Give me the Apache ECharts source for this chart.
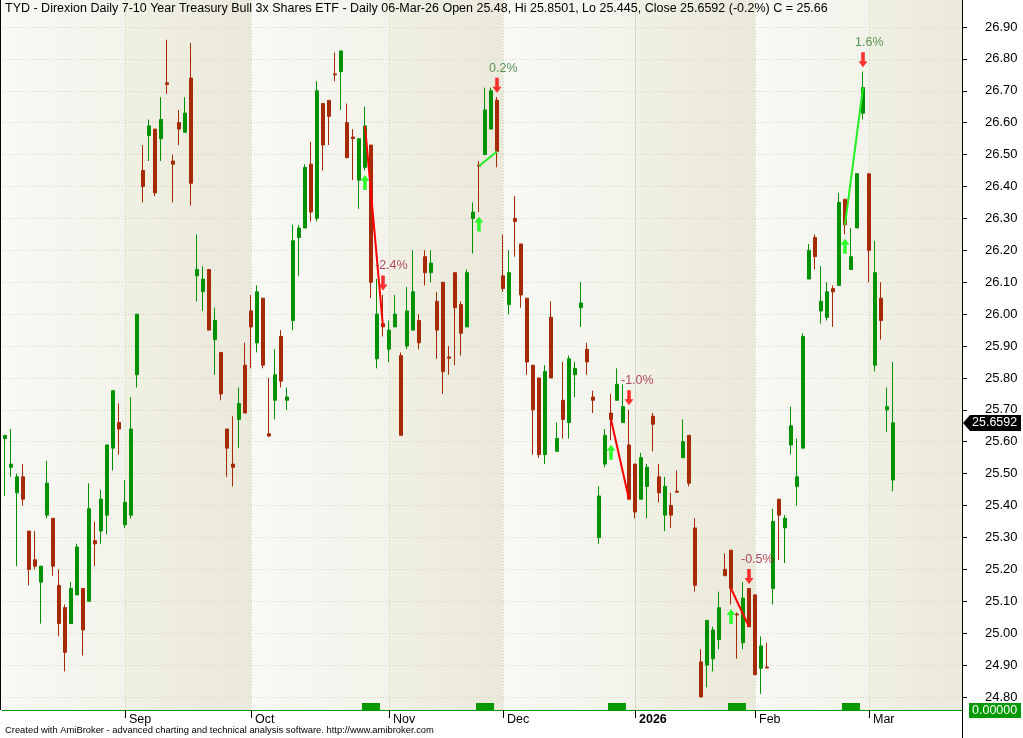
<!DOCTYPE html>
<html>
<head>
<meta charset="utf-8">
<title>TYD daily</title>
<script src="https://cdn.jsdelivr.net/npm/echarts@6.0.0/dist/echarts.min.js"></script>
<style>
  html, body { margin: 0; padding: 0; background: #fff; }
  #main { width: 1023px; height: 738px; }
</style>
</head>
<body>
<div id="main"></div>
<script>
var dates = [
  '2025-08-04','2025-08-05','2025-08-06','2025-08-07','2025-08-08','2025-08-11','2025-08-12','2025-08-13','2025-08-14','2025-08-15',
  '2025-08-18','2025-08-19','2025-08-20','2025-08-21','2025-08-22','2025-08-25','2025-08-26','2025-08-27','2025-08-28','2025-08-29',
  '2025-09-02','2025-09-03','2025-09-04','2025-09-05','2025-09-08','2025-09-09','2025-09-10','2025-09-11','2025-09-12','2025-09-15',
  '2025-09-16','2025-09-17','2025-09-18','2025-09-19','2025-09-22','2025-09-23','2025-09-24','2025-09-25','2025-09-26','2025-09-29',
  '2025-09-30',
  '2025-10-01','2025-10-02','2025-10-03','2025-10-06','2025-10-07','2025-10-08','2025-10-09','2025-10-10','2025-10-13','2025-10-14',
  '2025-10-15','2025-10-16','2025-10-17','2025-10-20','2025-10-21','2025-10-22','2025-10-23','2025-10-24','2025-10-27','2025-10-28',
  '2025-10-29','2025-10-30','2025-10-31',
  '2025-11-03','2025-11-04','2025-11-05','2025-11-06','2025-11-07','2025-11-10','2025-11-11','2025-11-12','2025-11-13','2025-11-14',
  '2025-11-17','2025-11-18','2025-11-19','2025-11-20','2025-11-21','2025-11-24','2025-11-25','2025-11-26','2025-11-28',
  '2025-12-01','2025-12-02','2025-12-03','2025-12-04','2025-12-05','2025-12-08','2025-12-09','2025-12-10','2025-12-11','2025-12-12',
  '2025-12-15','2025-12-16','2025-12-17','2025-12-18','2025-12-19','2025-12-22','2025-12-23','2025-12-24','2025-12-26','2025-12-29',
  '2025-12-30','2025-12-31',
  '2026-01-02','2026-01-05','2026-01-06','2026-01-07','2026-01-08','2026-01-09','2026-01-12','2026-01-13','2026-01-14','2026-01-15',
  '2026-01-16','2026-01-20','2026-01-21','2026-01-22','2026-01-23','2026-01-26','2026-01-27','2026-01-28','2026-01-29','2026-01-30',
  '2026-02-02','2026-02-03','2026-02-04','2026-02-05','2026-02-06','2026-02-09','2026-02-10','2026-02-11','2026-02-12','2026-02-13',
  '2026-02-17','2026-02-18','2026-02-19','2026-02-20','2026-02-23','2026-02-24','2026-02-25','2026-02-26','2026-02-27',
  '2026-03-02','2026-03-03','2026-03-04','2026-03-05','2026-03-06'
];

var opens = [
  25.61,25.52,25.44,25.49,25.32,25.23,25.16,25.37,25.36,25.15, 25.08,25.03,25.12,25.14,25.10,25.29,25.32,25.37,25.58,25.66,
  25.34,25.37,25.81,26.45,26.56,26.58,26.55,26.725,26.48,26.60, 26.57,26.74,26.12,26.07,26.14,25.92,25.88,25.64,25.53,25.67,
  25.84,26.01,25.91,26.05,25.625,25.73,25.93,25.73,25.98,26.24, 26.27,26.47,26.30,26.66,26.67,26.753,26.76,26.60,26.555,26.42,
  26.46,26.53,25.86,25.97,25.89,25.96,25.87,25.90,25.95,25.98, 26.18,26.13,26.04,26.10,25.866,26.13,26.03,25.96,26.30,26.467,
  26.50,26.58,26.67,26.12,26.03,26.30,26.22,26.05,25.84,25.80, 25.56,25.99,25.57,25.73,25.66,25.81,26.02,25.89,25.74,25.30,
  25.53,25.69,25.73,25.66,25.59,25.53,25.42,25.46,25.68,25.49, 25.37,25.40,25.445,25.55,25.62,25.33,24.91,24.90,24.92,24.98,
  25.20,25.26,25.06,24.97,25.14,25.12,24.89,24.894,25.14,25.42, 25.33,25.59,25.46,25.58,26.11,26.24,26.01,25.99,26.08,26.09,
  26.36,26.14,26.27,26.63,26.44,25.84,26.05,25.70,25.48
];
var highs = [
  25.62,25.64,25.50,25.53,25.32,25.32,25.21,25.54,25.36,25.20, 25.09,25.16,25.28,25.14,25.47,25.35,25.45,25.59,25.76,25.72,
  25.48,25.74,26.00,26.53,26.61,26.58,26.68,26.86,26.50,26.64, 26.68,26.85,26.25,26.15,26.14,26.02,25.88,25.64,25.68,25.77,
  25.91,26.06,26.09,26.05,25.80,25.89,25.95,25.77,26.28,26.28, 26.47,26.54,26.73,26.66,26.67,26.82,26.825,26.66,26.58,26.55,
  26.65,26.53,26.11,26.06,25.98,26.06,25.88,26.085,26.20,26.00, 26.20,26.20,26.07,26.10,25.90,26.13,26.04,26.14,26.35,26.48,
  26.71,26.71,26.68,26.25,26.20,26.37,26.22,26.05,25.84,25.80, 25.84,26.04,25.66,25.85,25.87,25.85,26.10,25.91,25.76,25.46,
  25.64,25.75,25.83,25.78,25.70,25.53,25.565,25.53,25.69,25.53, 25.49,25.44,25.51,25.67,25.62,25.36,24.95,25.04,25.02,25.13,
  25.25,25.26,25.065,25.16,25.14,25.12,24.99,24.97,25.39,25.42, 25.37,25.71,25.61,25.94,26.22,26.25,26.15,26.10,26.09,26.38,
  26.36,26.27,26.44,26.76,26.44,26.23,26.10,25.77,25.8501
];
var lows = [
  25.43,25.49,25.21,25.40,25.15,25.20,25.03,25.36,25.18,24.99, 24.88,25.03,25.12,24.93,25.10,25.21,25.28,25.31,25.51,25.56,
  25.33,25.36,25.77,26.35,26.48,26.37,26.48,26.69,26.35,26.53, 26.57,26.34,26.04,26.01,25.95,25.81,25.73,25.49,25.46,25.58,
  25.69,25.83,25.88,25.83,25.615,25.67,25.77,25.70,25.95,26.12, 26.27,26.29,26.29,26.45,26.53,26.73,26.64,26.49,26.42,26.33,
  26.45,26.05,25.83,25.93,25.85,25.96,25.62,25.89,25.95,25.89, 26.09,26.10,25.86,25.75,25.81,25.84,25.87,25.96,26.19,26.32,
  26.50,26.58,26.46,26.07,26.00,26.18,26.02,25.81,25.56,25.55, 25.53,25.80,25.57,25.61,25.61,25.74,25.96,25.81,25.69,25.28,
  25.52,25.605,25.73,25.66,25.42,25.36,25.42,25.36,25.57,25.41, 25.32,25.33,25.44,25.55,25.46,25.13,24.80,24.83,24.88,24.95,
  25.18,25.09,24.92,24.95,25.02,24.87,24.81,24.89,25.09,25.23, 25.22,25.56,25.40,25.58,26.11,26.14,25.97,25.98,25.96,26.09,
  26.25,26.14,26.27,26.61,26.10,25.82,25.92,25.63,25.445
];
var closes = [
  25.62,25.53,25.49,25.42,25.20,25.21,25.21,25.47,25.21,25.03, 24.94,25.14,25.27,25.01,25.39,25.28,25.42,25.59,25.76,25.64,
  25.41,25.64,26.00,26.40,26.59,26.38,26.61,26.72,26.47,26.58, 26.63,26.41,26.14,26.11,25.95,25.98,25.75,25.58,25.52,25.72,
  25.69,25.96,26.07,25.84,25.618,25.81,25.79,25.74,26.23,26.27, 26.46,26.32,26.70,26.53,26.62,26.75,26.825,26.49,26.55,26.55,
  26.59,26.10,26.00,25.96,25.95,26.00,25.62,26.01,26.07,25.91, 26.13,26.16,25.95,25.82,25.862,26.02,25.94,26.13,26.32,26.464,
  26.64,26.70,26.51,26.08,26.13,26.29,26.06,25.85,25.70,25.56, 25.82,25.80,25.61,25.67,25.86,25.83,26.035,25.85,25.73,25.43,
  25.62,25.67,25.78,25.71,25.42,25.38,25.55,25.52,25.655,25.44, 25.46,25.37,25.442,25.60,25.47,25.15,24.80,25.04,25.01,25.08,
  25.18,25.14,25.057,25.11,25.02,24.87,24.96,24.891,25.35,25.37, 25.36,25.65,25.49,25.93,26.20,26.18,26.04,26.07,26.07,26.35,
  26.28,26.18,26.44,26.71,26.20,26.13,25.98,25.71,25.6592
];

var yTicks = [24.8, 24.9, 25.0, 25.1, 25.2, 25.3, 25.4, 25.5, 25.6, 25.7, 25.8,
              25.9, 26.0, 26.1, 26.2, 26.3, 26.4, 26.5, 26.6, 26.7, 26.8, 26.9];
var monthNames = ['Jan','Feb','Mar','Apr','May','Jun','Jul','Aug','Sep','Oct','Nov','Dec'];

// trades: entry bar, exit bar (index into dates) and the % shown above the exit
var buyBars = [60, 79, 101, 121, 140];
var sellBars = [63, 82, 104, 124, 143];
var tradeLabels = ['-2.4%', '0.2%', '-1.0%', '-0.5%', '1.6%'];

var titleText = 'TYD - Direxion Daily 7-10 Year Treasury Bull 3x Shares ETF - Daily 06-Mar-26 Open 25.48, Hi 25.8501, Lo 25.445, Close 25.6592 (-0.2%) C = 25.66';
var footerText = 'Created with AmiBroker - advanced charting and technical analysis software. http://www.amibroker.com';

var FONT = 'Liberation Sans, Arial, sans-serif';
var UP = '#009100', DOWN = '#a52a05';
var yMin = 24.7592, yMax = 26.9846;
var emptyBars = 11;

// x axis categories: the trading days plus some blank space on the right
var axisDays = dates.slice();
for (var k = 0; k < emptyBars; k++) axisDays.push('blank' + k);

// first bar of each month
var monthStarts = [];
for (var i = 1; i < dates.length; i++) {
  if (dates[i].slice(5, 7) !== dates[i - 1].slice(5, 7)) monthStarts.push(i);
}
var bands = [];
var edges = [0].concat(monthStarts).concat([axisDays.length]);
for (var b = 0; b < edges.length - 1; b++) bands.push([edges[b], edges[b + 1], b % 2]);

var candleData = dates.map(function (d, i) {
  return [opens[i], closes[i], lows[i], highs[i]];
});

var markBars = [];
buyBars.forEach(function (b) { markBars.push([b, yMin], [b + 1, yMin], [b + 2, yMin]); });

function renderBand(params, api) {
  var cs = params.coordSys;
  var s = api.value(0), e = api.value(1), dark = api.value(2);
  var x0 = s === 0 ? cs.x : Math.round(api.coord([s, yMin])[0]);
  var x1 = e >= axisDays.length ? cs.x + cs.width : Math.round(api.coord([e, yMin])[0]);
  var c0 = dark ? '#f0f0e3' : '#f9f9f5';
  var c1 = dark ? '#eae9db' : '#f3f3eb';
  var children = [{
    type: 'rect',
    shape: { x: x0, y: cs.y, width: x1 - x0, height: cs.height },
    style: { fill: new echarts.graphic.LinearGradient(0, 0, 1, 0, [
      { offset: 0, color: c0 }, { offset: 1, color: c1 }]) }
  }];
  if (s > 0) {
    var isYear = dates[s].slice(5, 7) === '01';
    children.push({
      type: 'line',
      shape: { x1: x0 + 0.5, y1: cs.y, x2: x0 + 0.5, y2: cs.y + cs.height },
      style: { stroke: isYear ? '#d3dac6' : '#d2d2bd', lineWidth: 1, lineDash: isYear ? null : [1, 2] }
    });
  }
  return { type: 'group', children: children };
}

function renderMark(params, api) {
  var p = api.coord([api.value(0), yMin]);
  var w = api.size([1, 0])[0];
  return {
    type: 'rect',
    shape: { x: p[0] - w / 2, y: p[1] - 7, width: w, height: 7 },
    style: { fill: '#009a00' }
  };
}

var upArrow = 'path://M5,0 L10,6 L7,6 L7,15 L3,15 L3,6 L0,6 Z';
var downArrow = 'path://M3,0 L7,0 L7,9 L10,9 L5,15 L0,9 L3,9 Z';

var series = [
  {
    type: 'custom',
    z: -1,
    silent: true,
    renderItem: renderBand,
    encode: { x: 0, y: 2 },
    data: bands
  },
  {
    type: 'candlestick',
    barWidth: 4,
    data: candleData,
    itemStyle: {
      color: UP, color0: DOWN,
      borderColor: UP, borderColor0: DOWN,
      borderWidth: 1
    }
  },
  {
    type: 'custom',
    silent: true,
    renderItem: renderMark,
    encode: { x: 0, y: 1 },
    data: markBars
  }
];

// trade lines, close of entry bar to close of exit bar
buyBars.forEach(function (b, k) {
  var s = sellBars[k];
  var win = closes[s] >= closes[b];
  series.push({
    type: 'line',
    z: 4,
    symbol: 'none',
    silent: true,
    lineStyle: { color: win ? '#22ee22' : '#ff0000', width: 2 },
    data: [[b, closes[b]], [s, closes[s]]]
  });
});

series.push({
  type: 'scatter',
  z: 5,
  symbol: upArrow,
  symbolSize: [9, 15],
  symbolOffset: [0, 12],
  itemStyle: { color: '#00ff00' },
  data: buyBars.map(function (b) { return [b, lows[b]]; })
});

series.push({
  type: 'scatter',
  z: 5,
  symbol: downArrow,
  symbolSize: [9, 15],
  symbolOffset: [0, -12],
  itemStyle: { color: '#ff0000' },
  label: {
    show: true,
    position: 'top',
    distance: 3,
    align: 'left',
    offset: [-8, 0],
    fontFamily: FONT,
    fontSize: 12.5
  },
  data: sellBars.map(function (s, k) {
    var win = tradeLabels[k].charAt(0) !== '-';
    return {
      value: [s, highs[s]],
      label: { formatter: tradeLabels[k], color: win ? '#2f7d2f' : '#a01c38' }
    };
  })
});

var option = {
  animation: false,
  backgroundColor: '#ffffff',
  title: {
    text: titleText,
    left: 5,
    top: 2,
    padding: 0,
    textStyle: { fontFamily: FONT, fontSize: 12.5, fontWeight: 'normal', color: '#000' }
  },
  grid: { left: 2, right: 61, top: 0, bottom: 28 },
  xAxis: {
    type: 'category',
    data: axisDays,
    boundaryGap: true,
    axisLine: { lineStyle: { color: '#009a00', width: 1 } },
    axisTick: {
      show: true,
      alignWithLabel: true,
      length: 8,
      lineStyle: { color: '#000' },
      interval: function (idx) { return monthStarts.indexOf(idx) >= 0; }
    },
    axisLabel: {
      interval: function (idx) { return monthStarts.indexOf(idx) >= 0; },
      align: 'left',
      margin: 3,
      padding: [0, 0, 0, 4],
      fontFamily: FONT,
      fontSize: 12.5,
      color: '#000',
      formatter: function (v) {
        if (v.indexOf('blank') === 0) return '';
        var m = +v.slice(5, 7);
        if (m === 1) return '{y|' + v.slice(0, 4) + '}';
        return monthNames[m - 1];
      },
      rich: { y: { fontFamily: FONT, fontSize: 12.5, fontWeight: 'bold', color: '#000' } }
    },
    splitLine: { show: false }
  },
  yAxis: {
    type: 'value',
    position: 'right',
    min: yMin,
    max: yMax,
    scale: true,
    axisLine: { show: true, lineStyle: { color: '#000' } },
    axisTick: { show: true, length: 5, customValues: yTicks, lineStyle: { color: '#000' } },
    axisLabel: {
      customValues: yTicks,
      margin: 23,
      fontFamily: FONT,
      fontSize: 13,
      color: '#000',
      formatter: function (v) { return v.toFixed(2); }
    },
    splitLine: { show: true, lineStyle: { color: '#d2d2bf', type: [1, 2] } }
  },
  graphic: [
    { id: 'lborder', type: 'line', shape: { x1: 0.5, y1: 0, x2: 0.5, y2: 710 }, style: { stroke: '#000', lineWidth: 1 } },
    { id: 'raxis', type: 'line', shape: { x1: 962.5, y1: 700, x2: 962.5, y2: 738 }, style: { stroke: '#000', lineWidth: 1 } },
    { id: 'footer', type: 'text', left: 5, top: 726, style: { text: footerText, fontFamily: FONT, fontSize: 9.4, fill: '#000' } },
    { id: 'zbox', type: 'rect', shape: { x: 969, y: 703, width: 52, height: 15 }, style: { fill: '#009a00' } },
    { id: 'ztext', type: 'text', left: 972, top: 704, style: { text: '0.00000', fontFamily: FONT, fontSize: 12.5, fill: '#fff' } }
  ],
  series: series
};

var chart = echarts.init(document.getElementById('main'));
chart.setOption(option);

// last close tag on the price axis
var lastClose = closes[closes.length - 1];
var ly = Math.round(chart.convertToPixel({ yAxisIndex: 0 }, lastClose));
chart.setOption({
  graphic: [
    { id: 'tag', type: 'polygon', shape: { points: [[963, ly], [970, ly - 8], [1021, ly - 8], [1021, ly + 8], [970, ly + 8]] }, style: { fill: '#000' } },
    { id: 'tagtext', type: 'text', left: 972, top: ly - 7, style: { text: lastClose.toFixed(4), fontFamily: FONT, fontSize: 12.5, fill: '#fff' } }
  ]
});
</script>
</body>
</html>
